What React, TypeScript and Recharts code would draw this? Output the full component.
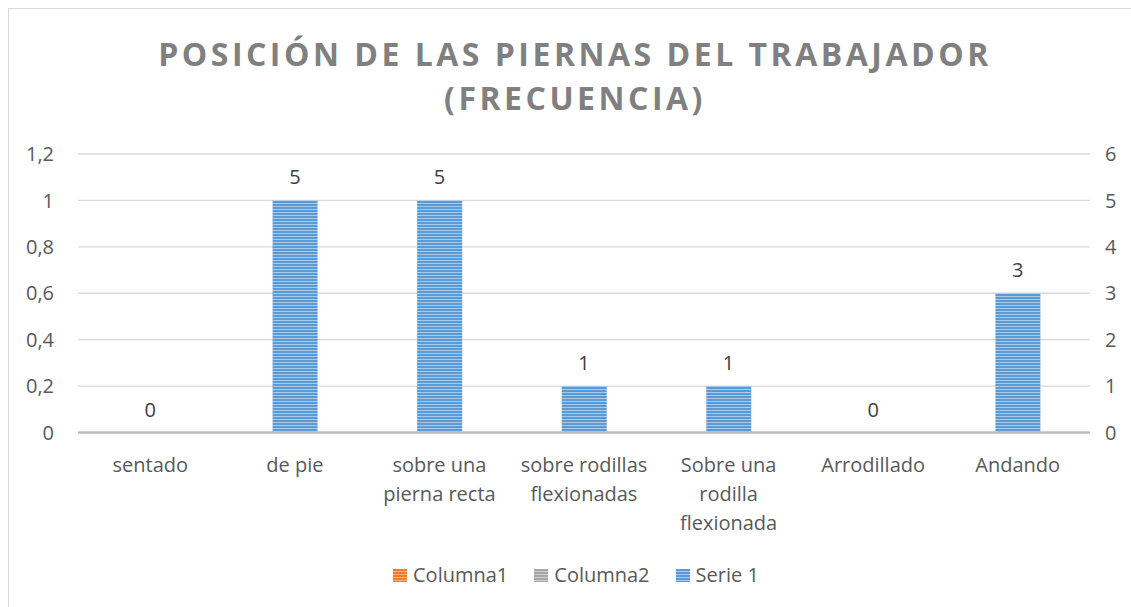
import { Bar, ComposedChart, CartesianGrid, LabelList, Line, XAxis, YAxis } from 'recharts'

const categories = [
  'sentado',
  'de pie',
  'sobre una\npierna recta',
  'sobre rodillas\nflexionadas',
  'Sobre una\nrodilla\nflexionada',
  'Arrodillado',
  'Andando',
]
const serie1 = [0, 5, 5, 1, 1, 0, 3]
const columna1: (number | null)[] = [null, null, null, null, null, null, null]
const columna2: (number | null)[] = [null, null, null, null, null, null, null]
const leftTicks = [0, 0.2, 0.4, 0.6, 0.8, 1, 1.2]
const rightTicks = [0, 1, 2, 3, 4, 5, 6]

const data = categories.map((name, i) => ({
  name,
  serie1: serie1[i],
  columna1: columna1[i],
  columna2: columna2[i],
}))

const FONT = '"Open Sans", "Noto Sans", sans-serif'
const TEXT = '#595959'
const GRID = '#d9d9d9'

const legendItems = [
  { label: 'Columna1', color: '#ed7d31', light: '#f4b183' },
  { label: 'Columna2', color: '#a5a5a5', light: '#d0d0d0' },
  { label: 'Serie 1', color: '#5b9bd5', light: '#a9c9ea' },
]

function CategoryTick(props: any) {
  const { x, y, payload } = props
  const lines = String(payload.value).split('\n')
  return (
    <text x={x} y={y + 31} textAnchor="middle" fill={TEXT} fontSize={20} fontFamily={FONT}>
      {lines.map((l, i) => (
        <tspan key={i} x={x} dy={i === 0 ? 0 : 29}>
          {l}
        </tspan>
      ))}
    </text>
  )
}

export default function App() {
  return (
    <div
      style={{
        position: 'absolute',
        left: 0,
        top: 0,
        width: 1131,
        height: 607,
        overflow: 'hidden',
        background: '#fff',
        fontFamily: FONT,
      }}
    >
      <div
        style={{
          position: 'absolute',
          left: 8,
          top: 8,
          width: 1140,
          height: 620,
          borderLeft: `1.5px solid ${GRID}`,
          borderTop: `1.5px solid ${GRID}`,
        }}
      />
      <div
        style={{
          position: 'absolute',
          left: 0,
          top: 32,
          width: 1150,
          textAlign: 'center',
          color: '#808080',
          fontWeight: 700,
          fontSize: 32,
          letterSpacing: 3.5,
          lineHeight: '44px',
        }}
      >
        POSICIÓN DE LAS PIERNAS DEL TRABAJADOR
        <br />
        (FRECUENCIA)
      </div>
      <ComposedChart
        width={1131}
        height={607}
        data={data}
        margin={{ top: 154, right: 0, bottom: 0, left: 0 }}
        style={{ position: 'absolute', left: 0, top: 0 }}
      >
        <defs>
          <pattern id="stripeBlue" width="4" height="3" patternUnits="userSpaceOnUse">
            <rect width="4" height="3" fill="#5b9bd5" />
            <rect width="4" height="1" y="2" fill="#a9c9ea" />
          </pattern>
        </defs>
        <CartesianGrid yAxisId="right" vertical={false} stroke={GRID} strokeWidth={1.3} />
        <XAxis
          dataKey="name"
          height={174.5}
          interval={0}
          tickLine={false}
          axisLine={{ stroke: '#bfbfbf', strokeWidth: 2.5 }}
          tick={<CategoryTick />}
        />
        <XAxis xAxisId="hidden" dataKey="name" hide />
        <YAxis
          yAxisId="left"
          orientation="left"
          width={78}
          domain={[0, 1.2]}
          allowDataOverflow
          ticks={leftTicks}
          tickFormatter={(v: number) => String(v).replace('.', ',')}
          axisLine={false}
          tickLine={false}
          tickSize={0}
          tickMargin={24}
          tick={{ fill: TEXT, fontSize: 20, fontFamily: FONT }}
        />
        <YAxis
          yAxisId="right"
          orientation="right"
          width={41}
          domain={[0, 6]}
          ticks={rightTicks}
          axisLine={false}
          tickLine={false}
          tickSize={0}
          tickMargin={15}
          tick={{ fill: TEXT, fontSize: 20, fontFamily: FONT, textAnchor: 'start' }}
        />
        <Bar
          xAxisId="hidden"
          yAxisId="left"
          dataKey="columna1"
          name="Columna1"
          fill="#ed7d31"
          isAnimationActive={false}
        />
        <Bar
          xAxisId="hidden"
          yAxisId="left"
          dataKey="columna2"
          name="Columna2"
          fill="#a5a5a5"
          isAnimationActive={false}
        />
        <Bar
          yAxisId="right"
          dataKey="serie1"
          name="Serie 1"
          fill="url(#stripeBlue)"
          barSize={45}
          isAnimationActive={false}
        />
        <Line
          yAxisId="right"
          dataKey="serie1"
          stroke="none"
          dot={false}
          activeDot={false}
          legendType="none"
          isAnimationActive={false}
        >
          <LabelList
            dataKey="serie1"
            position="top"
            offset={16}
            fill="#404040"
            fontSize={20}
            fontFamily={FONT}
          />
        </Line>
      </ComposedChart>
      <div
        style={{
          position: 'absolute',
          top: 561,
          left: 393,
          display: 'flex',
          gap: 26,
          fontSize: 20,
          lineHeight: '28px',
          color: TEXT,
        }}
      >
        {legendItems.map((it) => (
          <div key={it.label} style={{ display: 'flex', alignItems: 'center', gap: 6 }}>
            <span
              style={{
                display: 'inline-block',
                width: 14,
                height: 13,
                background: `repeating-linear-gradient(180deg, ${it.color} 0 2px, ${it.light} 2px 3px)`,
              }}
            />
            <span>{it.label}</span>
          </div>
        ))}
      </div>
    </div>
  )
}
